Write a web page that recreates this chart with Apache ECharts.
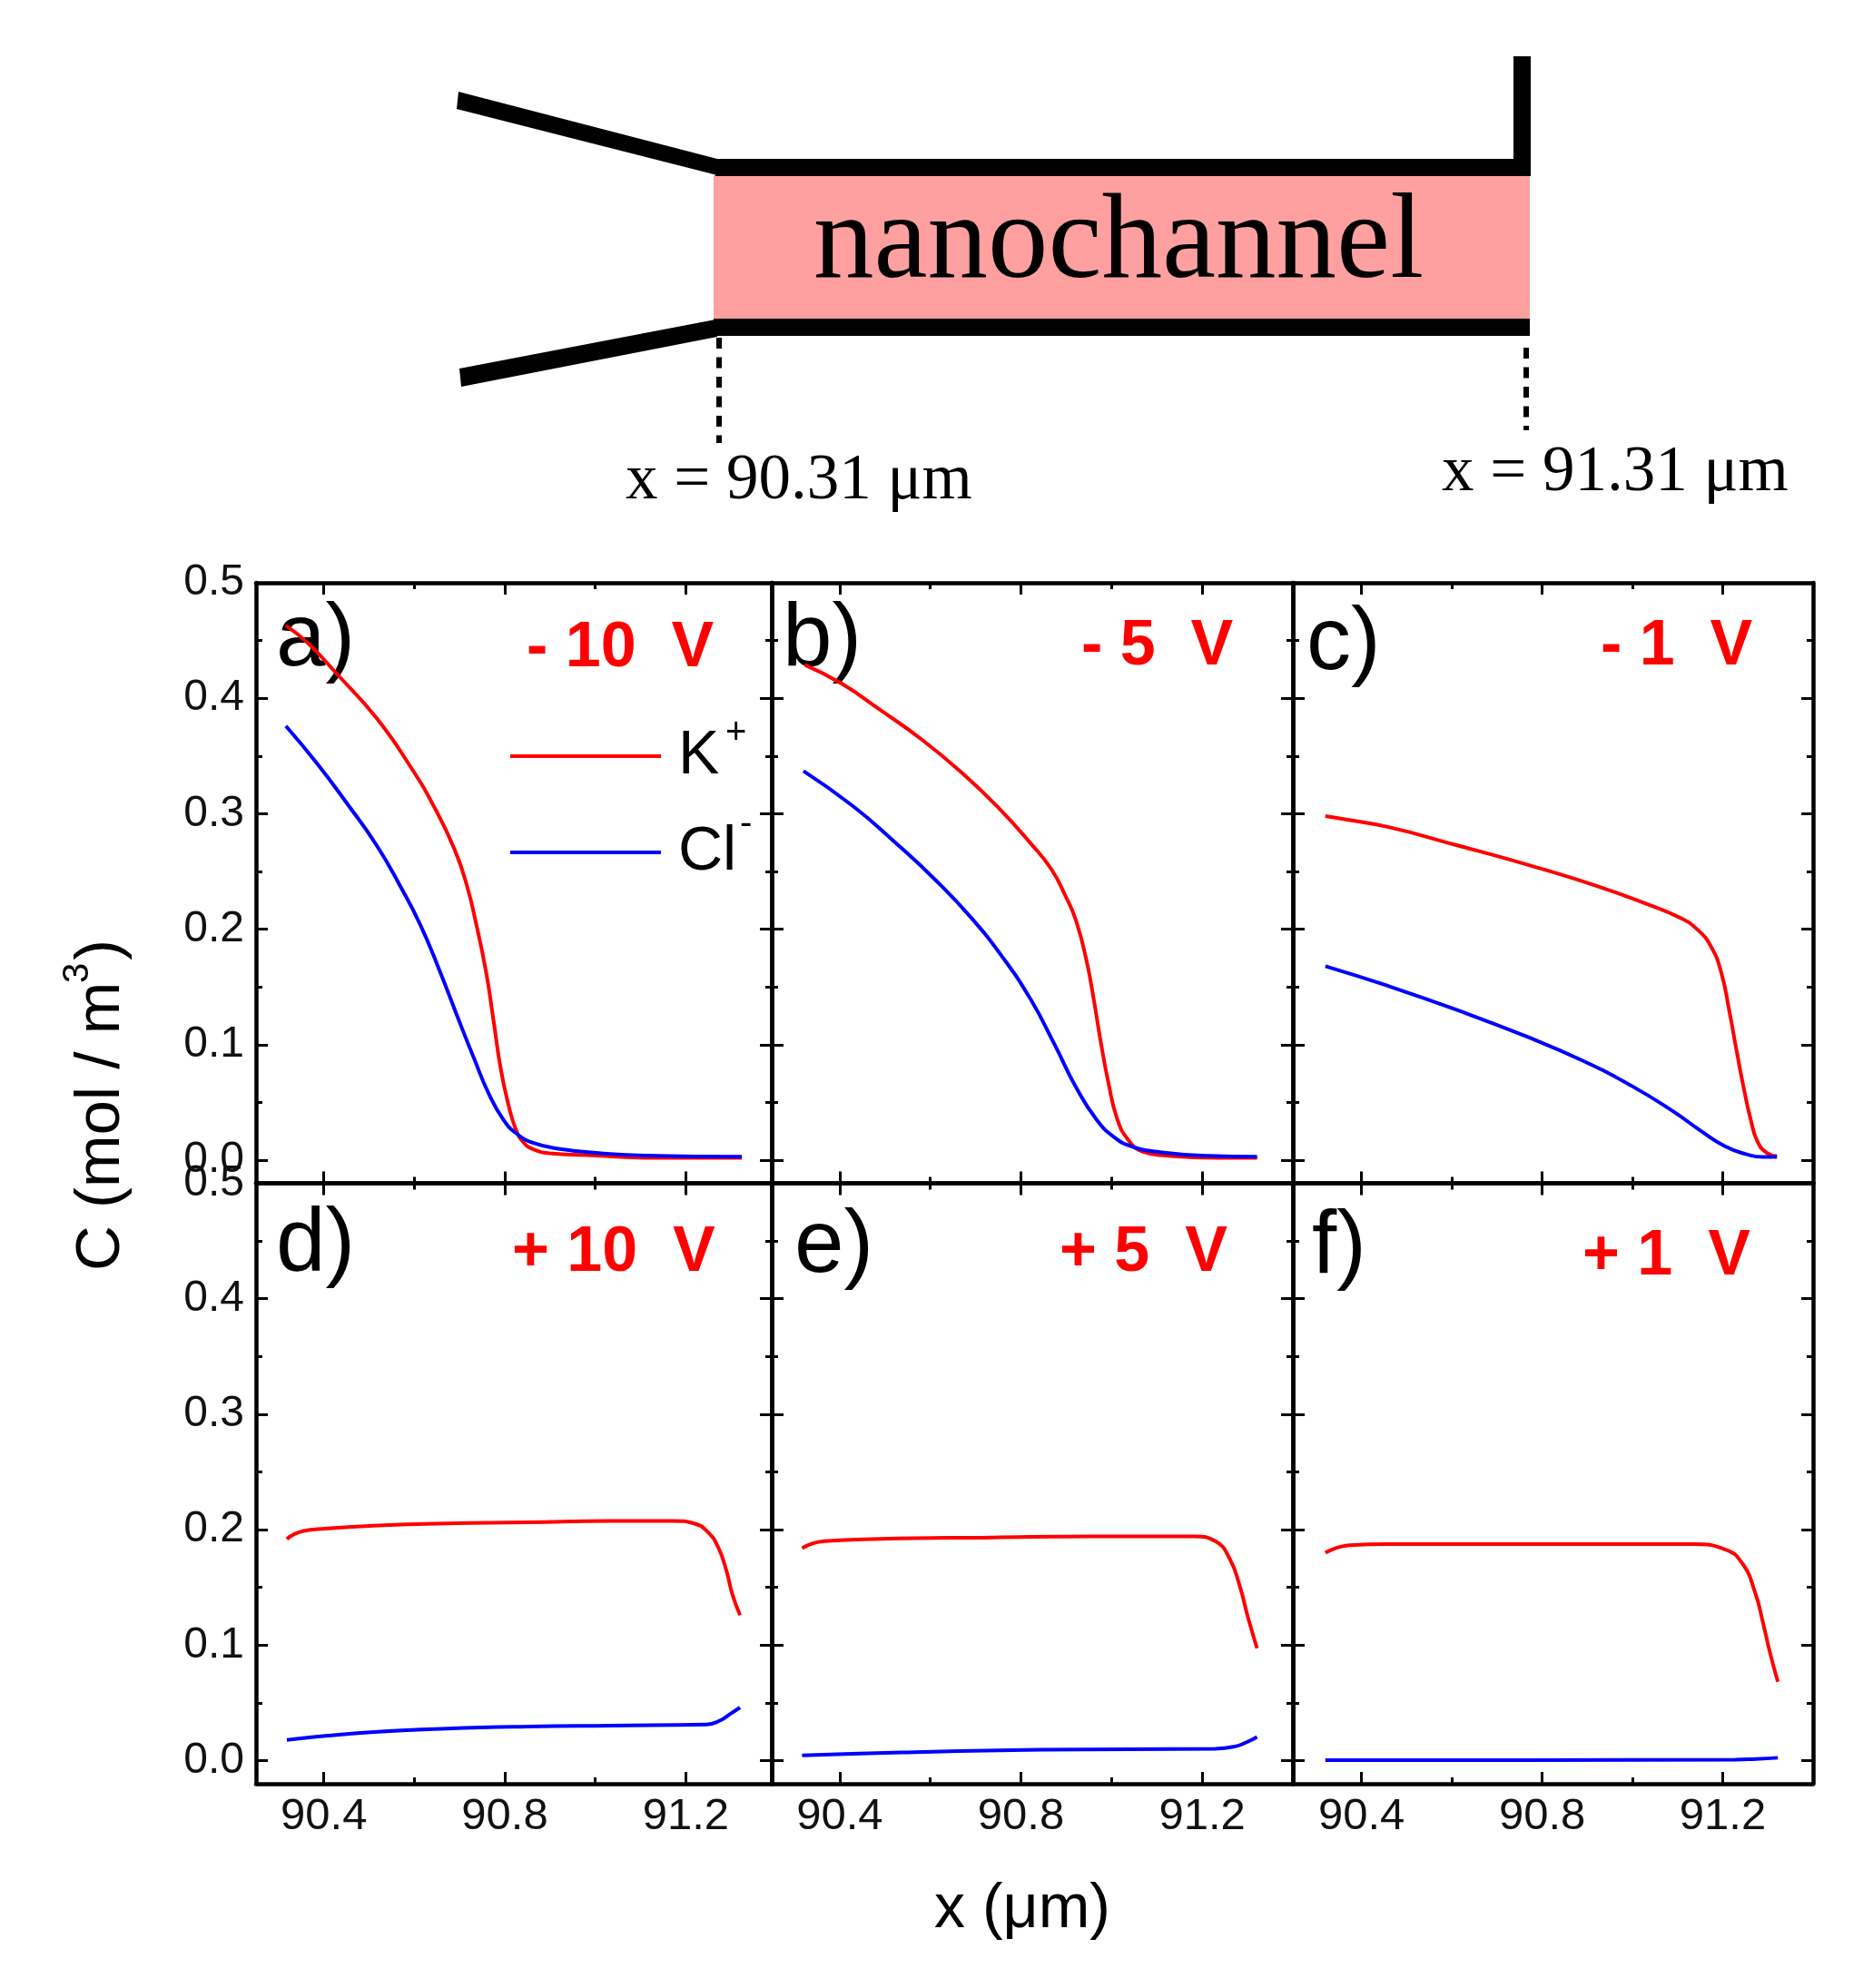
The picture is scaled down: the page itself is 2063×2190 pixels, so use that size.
<!DOCTYPE html>
<html><head><meta charset="utf-8">
<style>html,body{margin:0;padding:0;background:#fff}#c{width:2063px;height:2190px}</style>
<script src="https://cdn.jsdelivr.net/npm/echarts@6/dist/echarts.min.js"></script>
</head><body><div id="c"></div>
<script>
// ---- data ----
const xMajorTicks = [90.4, 90.8, 91.2];
const xMinorTicks = [90.6, 91.0];
const yMajorTicks = [0, 0.1, 0.2, 0.3, 0.4, 0.5];
const yMinorTicks = [0.05, 0.15, 0.25, 0.35, 0.45];

const aKx = [90.316,90.364,90.429,90.516,90.591,90.645,90.689,90.716,90.737,90.759,90.775,90.791,90.808,90.824,90.84,90.862,90.905,91.002,91.11,91.324];
const aKy = [.463,.448,.421,.383,.341,.305,.269,.238,.204,.162,.121,.079,.048,.027,.016,.0095,.0057,.004,.002,.002];
const aClx = [90.316,90.386,90.451,90.516,90.57,90.613,90.656,90.699,90.732,90.764,90.797,90.824,90.862,90.926,91.013,91.11,91.324];
const aCly = [.376,.343,.309,.273,.2365,.204,.164,.1205,.088,.058,.035,.0236,.015,.0095,.006,.004,.003];

const bKx = [90.323,90.405,90.489,90.582,90.674,90.751,90.821,90.867,90.898,90.921,90.944,90.959,90.975,90.993,91.013,91.036,91.067,91.121,91.229,91.321];
const bKy = [.429,.4125,.39,.364,.334,.305,.2745,.252,.229,.208,.174,.143,.105,.067,.035,.018,.0076,.004,.002,.002];
const bClx = [90.32,90.428,90.52,90.613,90.69,90.759,90.821,90.875,90.921,90.967,91.006,91.044,91.106,91.214,91.321];
const bCly = [.337,.307,.276,.242,.21,.176,.1395,.0996,.0635,.035,.0198,.012,.007,.0038,.003];

const cKx = [90.32,90.351,90.458,90.612,90.766,90.92,91.028,91.105,91.143,91.174,91.197,91.215,91.231,91.246,91.262,91.277,91.297,91.32];
const cKy = [.298,.296,.2886,.2726,.256,.2376,.2224,.21,.2,.185,.162,.128,.094,.0635,.035,.016,.0065,.0034];
const cClx = [90.32,90.458,90.612,90.766,90.889,90.997,91.089,91.151,91.205,91.251,91.289,91.32];
const cCly = [.168,.151,.13,.107,.0863,.0646,.0426,.0255,.012,.0053,.0027,.0027];

const dKx = [90.318,90.353,90.403,90.519,90.672,90.851,91.03,91.173,91.218,91.249,91.272,91.29,91.303,91.32];
const dKy = [.192,.1987,.2009,.2036,.2054,.2063,.2076,.2076,.2054,.1978,.1844,.1643,.144,.126];
const dClx = [90.318,90.403,90.519,90.672,90.851,91.03,91.245,91.276,91.299,91.32];
const dCly = [.0179,.0214,.025,.0277,.0295,.0304,.0313,.0348,.0406,.046];

const eKx = [90.317,90.366,90.489,90.736,90.952,91.183,91.229,91.26,91.283,91.301,91.321];
const eKy = [.184,.19,.192,.1933,.1942,.1942,.19,.1754,.151,.124,.0973];
const eClx = [90.317,90.536,90.844,91.229,91.275,91.298,91.321];
const eCly = [.0045,.0071,.0094,.0103,.0125,.016,.0205];

const fKx = [90.32,90.374,90.458,90.766,91.135,91.205,91.243,91.271,91.289,91.305,91.322];
const fKy = [.18,.1866,.1875,.1875,.1875,.183,.171,.1464,.1196,.0929,.0683];
const fClx = [90.32,90.766,91.228,91.274,91.322];
const fCly = [.0005,.0005,.0008,.0015,.0025];

const panelNames = ['a)','b)','c)','d)','e)','f)'];
const voltages = ['- 10  V','- 5  V','- 1  V','+ 10  V','+ 5  V','+ 1  V'];
const seriesNames = ['K+','Cl-'];

// ---- layout ----
const SANS = '"Liberation Sans", Arial, sans-serif', SERIF = '"Liberation Serif", "Times New Roman", serif';
const cols = [[282,850,90.25,91.39],[850,1424,90.25,91.40],[1424,1997,90.248,91.40]];
const rows = [[642,1303.5],[1303.5,1965]];
const curves = [[aKx,aKy,aClx,aCly],[bKx,bKy,bClx,bCly],[cKx,cKy,cClx,cCly],[dKx,dKy,dClx,dCly],[eKx,eKy,eClx,eCly],[fKx,fKy,fClx,fCly]];
const zip = (a,b)=>a.map((v,i)=>[v,b[i]]);

const grid=[],xAxis=[],yAxis=[],series=[];
const axisLW=4.5, MAJ=13, MIN=7;
function tickAxis(base,pos,values,len,extra){
  return Object.assign({},base,{position:pos,show:true,
    axisLine:{show:false,onZero:false},splitLine:{show:false},
    axisTick:{show:true,inside:true,length:len,customValues:values,lineStyle:{color:'#000',width:3}},
    axisLabel:{show:false}},extra||{});
}
for(let i=0;i<6;i++){
  const r=Math.floor(i/3),c=i%3;
  const [l,rr,xmin,xmax]=cols[c],[t,b]=rows[r];
  grid.push({left:l,top:t,width:rr-l,height:b-t,containLabel:false,show:false});
  const xb={type:'value',gridIndex:i,min:xmin,max:xmax,scale:true};
  const yb={type:'value',gridIndex:i,min:-0.02,max:0.5,scale:true};
  const x0=xAxis.length,y0=yAxis.length;
  xAxis.push(tickAxis(xb,'bottom',xMajorTicks,MAJ,{
    axisLine:{show:true,onZero:false,lineStyle:{color:'#000',width:axisLW}},
    axisLabel:{show:r===1,customValues:xMajorTicks,margin:12,fontFamily:SANS,fontSize:49,color:'#111',formatter:v=>v.toFixed(1)}}));
  xAxis.push(tickAxis(xb,'bottom',xMinorTicks,MIN));
  xAxis.push(tickAxis(xb,'top',xMajorTicks,MAJ,{axisLine:{show:true,onZero:false,lineStyle:{color:'#000',width:axisLW}}}));
  xAxis.push(tickAxis(xb,'top',xMinorTicks,MIN));
  yAxis.push(tickAxis(yb,'left',yMajorTicks,MAJ,{
    axisLine:{show:true,onZero:false,lineStyle:{color:'#000',width:axisLW}},
    axisLabel:{show:c===0,customValues:yMajorTicks,margin:13,padding:[0,0,8,0],fontFamily:SANS,fontSize:48,color:'#111',formatter:v=>v.toFixed(1)}}));
  yAxis.push(tickAxis(yb,'left',yMinorTicks,MIN));
  yAxis.push(tickAxis(yb,'right',yMajorTicks,MAJ,{axisLine:{show:true,onZero:false,lineStyle:{color:'#000',width:axisLW}}}));
  yAxis.push(tickAxis(yb,'right',yMinorTicks,MIN));
  const [kx,ky,cx,cy]=curves[i];
  [[seriesNames[0],zip(kx,ky),'#ff0000'],[seriesNames[1],zip(cx,cy),'#0000ff']].forEach(([n,d,col])=>{
    series.push({type:'line',name:n,xAxisIndex:x0,yAxisIndex:y0,data:d,showSymbol:false,symbol:'none',
      smooth:0.5,lineStyle:{color:col,width:4},itemStyle:{color:col},silent:true});
  });
}

// ---- annotations ----
function T(text,x,base,size,opts){
  opts=opts||{};
  const fam=opts.family||SANS;
  const mid=fam===SERIF?0.3375:0.3465;
  return {type:'text',z:1,style:{text,x,y:base-mid*size,
    font:(opts.bold?'bold ':'')+size+'px '+fam,fill:opts.fill||'#000',align:opts.align||'left',verticalAlign:'middle'}};
}
function VT(text,baseX,y,size){ // rotated 90 degrees counterclockwise, reading upward
  return {type:'text',z:1,x:baseX-0.3465*size,y,rotation:Math.PI/2,
    style:{text,x:0,y:0,font:size+'px '+SANS,fill:'#000',align:'left',verticalAlign:'middle'}};
}
function poly(points,fill){return {type:'polygon',z:1,shape:{points},style:{fill}};}
function rect(x,y,w,h,fill){return {type:'rect',z:1,shape:{x,y,width:w,height:h},style:{fill}};}
function dash(x,y1,y2){return {type:'line',z:1,shape:{x1:x,y1,x2:x,y2},style:{stroke:'#000',lineWidth:6,lineDash:[12,9.5]}};}
function seg(x1,x2,y,c){return {type:'line',z:1,shape:{x1,y1:y,x2,y2:y},style:{stroke:c,lineWidth:4}};}

const labelPos=[[304,740],[862,740],[1439,744],[304,1406],[875,1408],[1445,1409]];
const voltPos=[[580,739],[1191,737],[1763,737],[564,1405],[1167,1405],[1743,1409]];
const graphics=[
  rect(786,193,899,158,'#ffa0a0'),
  poly([[505,101],[790,175],[790,193],[503,120]],'#000'),
  rect(788,175,898,19,'#000'),
  rect(1667,62,19,130,'#000'),
  rect(786,351,899,19,'#000'),
  poly([[788,352],[506,406],[508,426],[790,371]],'#000'),
  dash(792,372,488),dash(1681,383,474),
  T('nanochannel',896,315,133,{family:SERIF}),
  T('x = 90.31 μm',689,554,71,{family:SERIF}),
  T('x = 91.31 μm',1588,545,71,{family:SERIF}),
  seg(562,728,833,'#ff0000'),seg(562,728,939,'#0000ff'),
  T('K',747,857,68),T('+',799,822,40),
  T('Cl',747,963,68),T('-',815,922,40),
  T('x (μm)',1029,2128,68),
  VT('C (mol / m',136,1400,69),VT('3',100,1083,40),VT(')',136,1058,69)
];
panelNames.forEach((s,i)=>graphics.push(T(s,labelPos[i][0],labelPos[i][1],98)));
voltages.forEach((s,i)=>graphics.push(T(s,voltPos[i][0],voltPos[i][1],70,{bold:true,fill:'#ff0000'})));

const chart=echarts.init(document.getElementById('c'),null,{renderer:'canvas'});
chart.setOption({animation:false,backgroundColor:'#fff',tooltip:{show:false},legend:{show:false},grid,xAxis,yAxis,series,graphic:{elements:graphics}});
</script></body></html>
